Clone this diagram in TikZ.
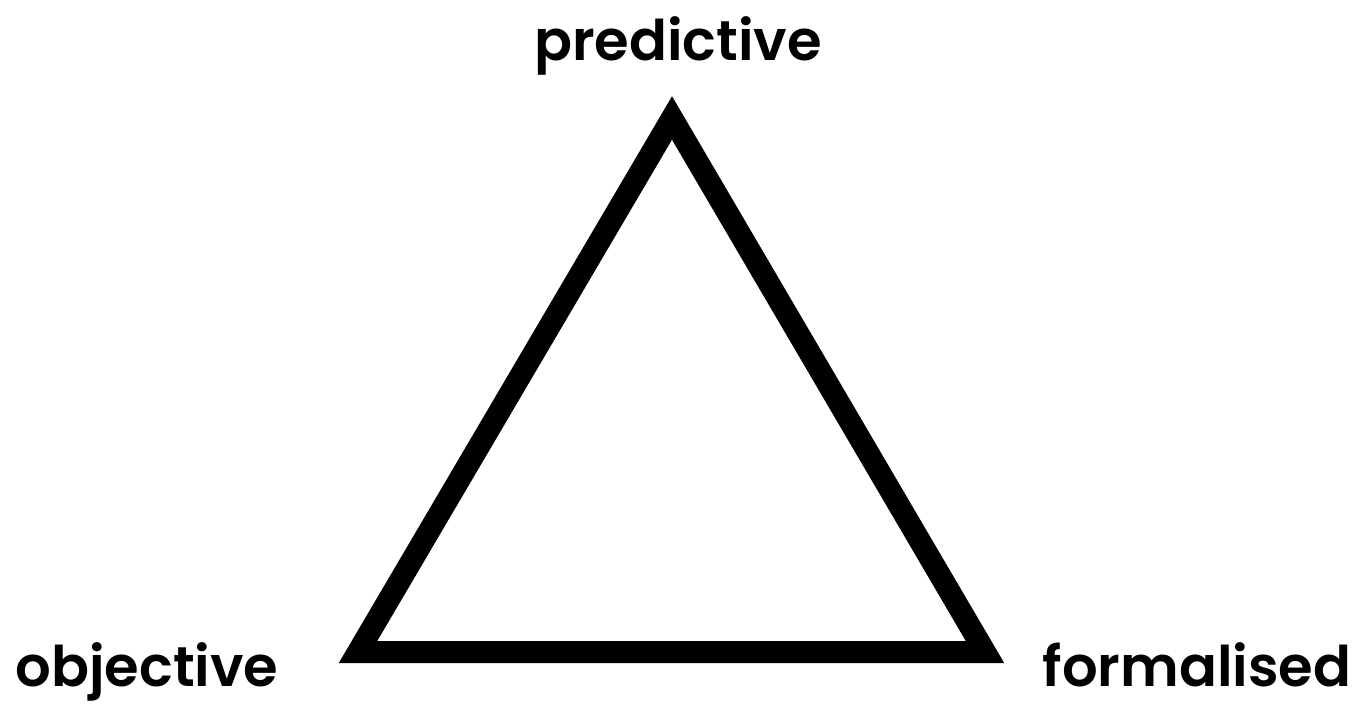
\documentclass[tikz,border=0pt]{standalone}
\usepackage{fontspec}
\setmainfont{Poppins}[BoldFont={* SemiBold}]
\begin{document}
\begin{tikzpicture}[x=1pt,y=-1pt,
  lbl/.style={font=\fontsize{56}{56}\selectfont\bfseries, inner sep=0pt, anchor=base},
  edge/.style={line width=22pt, line join=miter, miter limit=10}]
\useasboundingbox (0,0) rectangle (1370,709);
\coordinate (top) at (672,118);
\coordinate (bl) at (358,652);
\coordinate (br) at (985,652);
\draw[edge] (top) -- (bl) -- (br) -- cycle;
\node[lbl] (p) at (678,61) {predictive};
\node[lbl] (o) at (147,686) {objective};
\node[lbl] (f) at (1197,686) {formalised};
\end{tikzpicture}
\end{document}
